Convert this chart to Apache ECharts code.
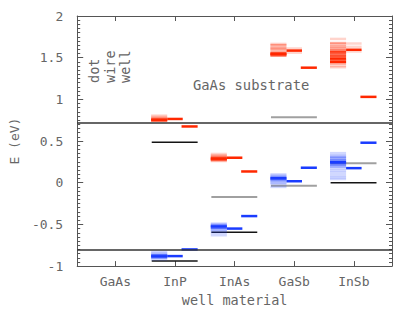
<!DOCTYPE html>
<html><head><meta charset="utf-8">
<script src="https://cdn.jsdelivr.net/npm/echarts@6/dist/echarts.min.js"></script>
<style>html,body{margin:0;padding:0;background:#fff}#c{width:415px;height:312px}</style>
</head><body><div id="c"></div>
<script>
// ---- data ----
const materials = ['GaAs', 'InP', 'InAs', 'GaSb', 'InSb'];
const yTicks = [-1, -0.5, 0, 0.5, 1, 1.5, 2];
const substrateBands = [0.72, -0.80]; // GaAs substrate CB / VB
// [material index, energy (eV), number of states at that level]
const dotCond = [
  [1,0.805,1],[1,0.79,1],[1,0.775,2],[1,0.76,4],[1,0.75,5],[1,0.745,2],
  [2,0.345,1],[2,0.33,1],[2,0.315,2],[2,0.30,3],[2,0.29,5],[2,0.28,4],[2,0.27,2],[2,0.26,1],
  [3,1.665,1],[3,1.65,2],[3,1.625,1],[3,1.61,2],[3,1.595,1],[3,1.57,2],[3,1.55,5],[3,1.54,5],[3,1.525,3],
  [4,1.725,1],[4,1.675,2],[4,1.66,1],[4,1.635,2],[4,1.61,2],[4,1.585,3],[4,1.565,4],[4,1.545,3],[4,1.52,4],[4,1.49,5],[4,1.47,3],[4,1.45,5],[4,1.43,2],[4,1.40,1],[4,1.385,1]
];
const dotVal = [
  [1,-0.83,1],[1,-0.85,1],[1,-0.865,2],[1,-0.875,4],[1,-0.885,5],[1,-0.90,2],[1,-0.92,1],
  [2,-0.49,1],[2,-0.50,1],[2,-0.515,3],[2,-0.525,5],[2,-0.54,3],[2,-0.56,2],[2,-0.58,1],[2,-0.60,1],[2,-0.63,1],
  [3,0.10,1],[3,0.085,1],[3,0.07,2],[3,0.055,5],[3,0.045,3],[3,0.03,2],[3,0.015,1],[3,0.0,1],[3,-0.015,1],[3,-0.05,1],
  [4,0.355,1],[4,0.33,1],[4,0.31,2],[4,0.29,2],[4,0.27,2],[4,0.25,5],[4,0.235,4],[4,0.215,2],[4,0.195,2],[4,0.17,1],[4,0.145,1],[4,0.12,1],[4,0.09,1],[4,0.065,1],[4,0.045,1]
];
const wireCond = [[1,0.765,5],[2,0.30,5],[3,1.61,1],[3,1.585,5],[3,1.56,1],[4,1.67,1],[4,1.63,1],[4,1.595,5],[4,1.575,1]];
const wireVal  = [[1,-0.88,5],[2,-0.55,5],[3,0.018,5],[4,0.175,5]];
const wellCond = [[1,0.675,5],[2,0.135,5],[3,1.38,5],[4,1.03,5]];
const wellVal  = [[1,-0.80,5],[2,-0.40,5],[3,0.18,5],[4,0.48,5]];
const bulkBlack = [[1,0.486,5],[1,-0.94,5],[2,-0.595,5],[4,0.0,5]];
const bulkGray  = [[2,-0.17,5],[3,0.785,5],[3,-0.035,5],[4,0.234,5]];

// ---- drawing ----
const RED = '255,40,0', BLUE = '26,60,255', BLACK = '20,20,20', GRAY = '160,160,160';
function seg(x0, x1, rgb, w) {
  return function (params, api) {
    const m = api.value(0), e = api.value(1), n = api.value(2);
    const p0 = api.coord([m + x0, e]), p1 = api.coord([m + x1, e]);
    const a = Math.min(1, 0.2 * n);
    return {type: 'line', shape: {x1: p0[0], y1: p0[1], x2: p1[0], y2: p1[1]},
            style: {stroke: 'rgba(' + rgb + ',' + a + ')', lineWidth: w}};
  };
}
function cs(data, x0, x1, rgb, w) {
  return {type: 'custom', data: data, renderItem: seg(x0, x1, rgb, w), silent: true,
          encode: {x: 0, y: 1}, clip: true};
}
const FONT = 'DejaVu Sans Mono';
const TXT = '#666';
const tickPos = materials.map((m, i) => i);
const chart = echarts.init(document.getElementById('c'), null, {renderer: 'svg'});
const xCommon = {
  type: 'value', min: -0.64, max: 4.64,
  axisLine: {show: true, onZero: false, lineStyle: {color: '#555', width: 1}},
  axisTick: {show: true, inside: true, length: 5, customValues: tickPos, lineStyle: {color: '#555'}},
  splitLine: {show: false}
};
const yCommon = {
  type: 'value', min: -1, max: 2, interval: 0.5,
  axisLine: {show: true, onZero: false, lineStyle: {color: '#555', width: 1}},
  axisTick: {show: true, inside: true, length: 6, lineStyle: {color: '#555'}},
  minorTick: {show: true, splitNumber: 10, length: 3, lineStyle: {color: '#555'}},
  splitLine: {show: false}, minorSplitLine: {show: false}
};
chart.setOption({
  animation: false,
  grid: {left: 71, right: 23, top: 16, bottom: 42},
  xAxis: [
    Object.assign({}, xCommon, {position: 'bottom',
      axisLabel: {show: true, customValues: tickPos, margin: 9,
        formatter: v => materials[Math.round(v)], fontFamily: FONT, fontSize: 13, color: TXT},
      name: 'well material', nameLocation: 'middle', nameGap: 26,
      nameTextStyle: {fontFamily: FONT, fontSize: 13.5, color: TXT}}),
    Object.assign({}, xCommon, {position: 'top', axisLabel: {show: false}})
  ],
  yAxis: [
    Object.assign({}, yCommon, {position: 'left',
      axisLabel: {show: true, margin: 14, fontFamily: FONT, fontSize: 13, color: TXT,
        customValues: yTicks},
      name: 'E (eV)', nameLocation: 'middle', nameGap: 52, nameRotate: 90,
      nameTextStyle: {fontFamily: FONT, fontSize: 13, color: TXT}}),
    Object.assign({}, yCommon, {position: 'right', axisLabel: {show: false}})
  ],
  series: [
    {type: 'line', data: [], silent: true,
     markLine: {silent: true, symbol: 'none', label: {show: false},
       lineStyle: {color: '#333', width: 1.5, type: 'solid'},
       data: substrateBands.map(v => ({yAxis: v}))}},
    cs(bulkGray, -0.39, 0.38, GRAY, 2),
    cs(bulkBlack, -0.39, 0.38, BLACK, 1.5),
    cs(dotCond, -0.40, -0.13, RED, 2.5),
    cs(dotVal, -0.40, -0.13, BLUE, 2.5),
    cs(wireCond, -0.13, 0.13, RED, 2.5),
    cs(wireVal, -0.13, 0.13, BLUE, 2.5),
    cs(wellCond, 0.11, 0.38, RED, 2.5),
    cs(wellVal, 0.11, 0.38, BLUE, 2.5)
  ],
  graphic: [
    {type: 'text', x: 94, y: 83, rotation: Math.PI / 2,
     style: {text: 'dot', font: '13.5px "DejaVu Sans Mono"', fill: TXT, textAlign: 'left', textVerticalAlign: 'middle'}},
    {type: 'text', x: 110, y: 83, rotation: Math.PI / 2,
     style: {text: 'wire', font: '13.5px "DejaVu Sans Mono"', fill: TXT, textAlign: 'left', textVerticalAlign: 'middle'}},
    {type: 'text', x: 125, y: 83, rotation: Math.PI / 2,
     style: {text: 'well', font: '13.5px "DejaVu Sans Mono"', fill: TXT, textAlign: 'left', textVerticalAlign: 'middle'}},
    {type: 'text', x: 193, y: 85,
     style: {text: 'GaAs substrate', font: '13.8px "DejaVu Sans Mono"', fill: TXT, textAlign: 'left', textVerticalAlign: 'middle'}}
  ]
});
</script></body></html>
